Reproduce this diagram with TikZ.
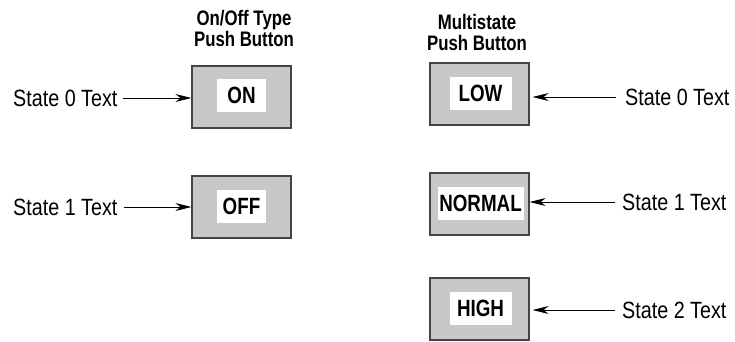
\documentclass[tikz,border=0pt]{standalone}
\usepackage{fontspec}
\setmainfont[FakeStretch=0.84,BoldFeatures={FakeStretch=0.8}]{Liberation Sans}
\usetikzlibrary{arrows.meta,positioning}
\definecolor{btn}{RGB}{199,200,202}
\definecolor{rim}{RGB}{68,68,68}

\begin{document}
\begin{tikzpicture}[x=1pt,y=-1pt,
  button/.style={draw=rim,line width=1.2pt,fill=btn,minimum width=99pt,minimum height=62pt,inner sep=0pt},
  face/.style={fill=white,font=\bfseries\fontsize{23.5}{23.5}\selectfont,minimum height=33pt,inner sep=0pt},
  tag/.style={font=\fontsize{23.5}{23.5}\selectfont,inner sep=0pt},
  head/.style={font=\bfseries\fontsize{21}{21}\selectfont,align=center,inner sep=0pt},
  feed/.style={-{Stealth[length=16pt,width=8pt,inset=5pt]},line width=1pt}]
  \useasboundingbox (0,0) rectangle (735,341);
  % on/off type
  \begin{scope}
    \node[head] (onoffhead) at (244,28) {On/Off Type\\Push Button};
    \node[button] (onbox) at (241.5,97) {};
    \node[face,minimum width=49pt] (onface) at (241.5,95.5) {ON};
    \node[button] (offbox) at (241.5,207) {};
    \node[face,minimum width=49pt] (offface) at (241.5,206) {OFF};
    \node[tag,anchor=west] (onstate0) at (13,98) {State 0 Text};
    \node[tag,anchor=west] (onstate1) at (13,207) {State 1 Text};
    \draw[feed,shorten <=5pt] (onstate0.east) -- (onbox.west |- onstate0.east);
    \draw[feed,shorten <=6pt] (onstate1.east) -- (offbox.west |- onstate1.east);
  \end{scope}
  % multistate
  \begin{scope}
    \node[head] (multihead) at (477,32) {Multistate\\Push Button};
    \foreach \n/\lbl/\y/\w in {low/LOW/94/62,normal/NORMAL/204/86,high/HIGH/309/62} {
      \node[button] (\n box) at (479.5,\y) {};
      \node[face,minimum width=\w pt] (\n face) at (480.5,\y-1) {\lbl};
    }
    \node[tag,anchor=west] (mstate0) at (625,97) {State 0 Text};
    \node[tag,anchor=west] (mstate1) at (622,202) {State 1 Text};
    \node[tag,anchor=west] (mstate2) at (622,310) {State 2 Text};
    \draw[feed,shorten <=9pt,shorten >=3pt] (mstate0.west) -- (lowbox.east |- mstate0.west);
    \draw[feed,shorten <=7pt] (mstate1.west) -- (normalbox.east |- mstate1.west);
    \draw[feed,shorten <=7pt,shorten >=3pt] (mstate2.west) -- (highbox.east |- mstate2.west);
  \end{scope}
\end{tikzpicture}
\end{document}
